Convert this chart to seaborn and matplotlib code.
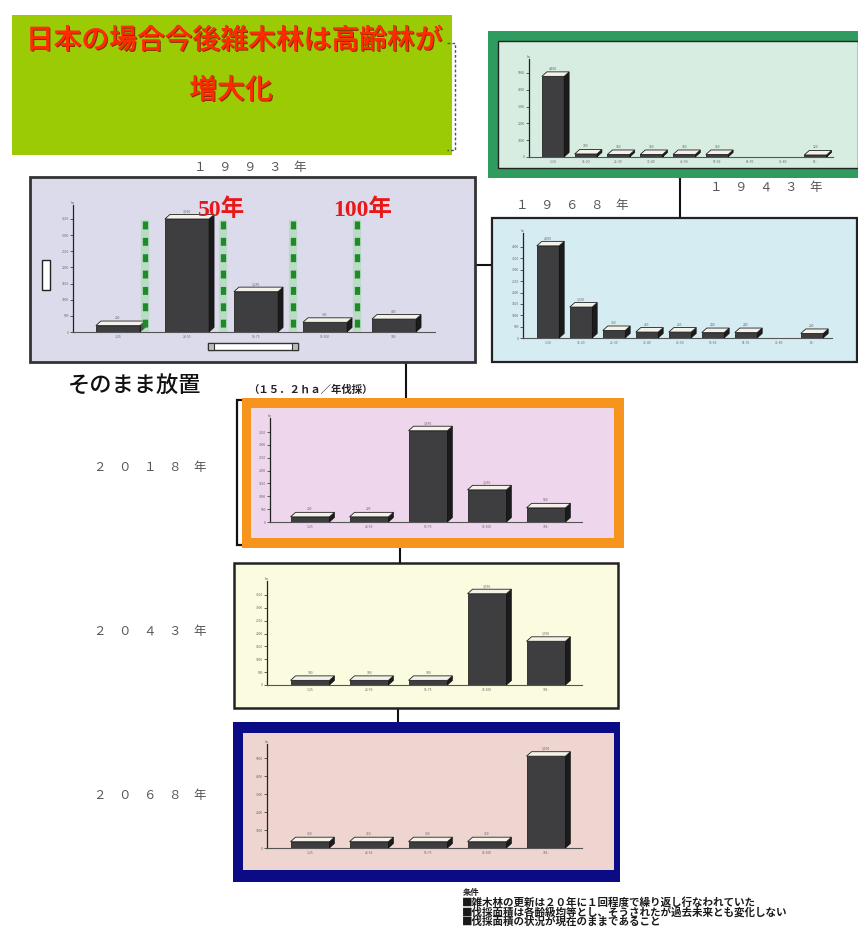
import numpy as np
import pandas as pd
import matplotlib
matplotlib.use("Agg")
import matplotlib.pyplot as plt
import matplotlib.patheffects as pe
from matplotlib.patches import Rectangle, Polygon
import seaborn as sns

sns.set_style("white")
plt.rcParams["font.family"] = ["Noto Sans CJK JP", "DejaVu Sans"]

W, H = 858, 926

# ---- data: forest area by age class (ha) ----
classes9 = ["1-10", "11-20", "21-30", "31-40", "41-50", "51-60", "61-70", "71-80", "81-"]
classes5 = ["1-25", "26-50", "51-75", "76-100", "101-"]

area_1943 = [4800, 180, 150, 150, 150, 150, 0, 0, 120]
area_1968 = [4050, 1360, 330, 260, 260, 240, 240, 0, 200]
area_1993 = [200, 3500, 1250, 300, 400]
area_2018 = [200, 200, 3550, 1250, 550]
area_2043 = [180, 180, 180, 3550, 1700]
area_2068 = [350, 350, 350, 350, 5100]

title_lines = ["日本の場合今後雑木林は高齢林が", "増大化"]
footnotes = ["■雑木林の更新は２０年に１回程度で繰り返し行なわれていた",
             "■伐採面積は各齢級均等とし、そうされたが過去未来とも変化しない",
             "■伐採面積の状況が現在のままであること"]

FRONT = "#3e3e41"
TOP = "#f3f1e8"
SIDE = "#1b1b1b"

fig = plt.figure(figsize=(W / 100, H / 100), dpi=100)

# full-figure canvas in pixel coordinates for panels, labels and connectors
canvas = fig.add_axes([0, 0, 1, 1], zorder=0)
canvas.set_xlim(0, W)
canvas.set_ylim(H, 0)
canvas.axis("off")

over = fig.add_axes([0, 0, 1, 1], zorder=6)
over.set_xlim(0, W)
over.set_ylim(H, 0)
over.axis("off")
over.patch.set_alpha(0)


def box(ax, l, t, r, b, fc, ec="none", lw=0, z=1):
    ax.add_patch(Rectangle((l, t), r - l, b - t, facecolor=fc, edgecolor=ec,
                           linewidth=lw, zorder=z))


def line(ax, xs, ys, **kw):
    ax.plot(xs, ys, solid_capstyle="butt", **kw)


# ---- title box ----
box(canvas, 12, 15, 452, 155, "#9bcb05")
line(canvas, [447, 455, 455, 447], [43, 43, 150, 150], color="#555555", lw=1.0, ls=(0, (2, 1.5)))
shadow = [pe.withSimplePatchShadow(offset=(0.8, -0.8), shadow_rgbFace="#7a2400", alpha=0.9),
          pe.Normal()]
canvas.text(234, 40, title_lines[0], ha="center", va="center", fontsize=20,
            color="#ff2a00", fontweight="medium", path_effects=shadow)
canvas.text(231, 90, title_lines[1], ha="center", va="center", fontsize=20,
            color="#ff2a00", fontweight="medium", path_effects=shadow)

# ---- panel frames ----
# 1943
box(canvas, 488, 31, 858, 178, "#2f9b5e")
box(canvas, 498, 41, 858, 168, "#d7ede2", ec="#222222", lw=1.0, z=2)
# 1968
box(canvas, 492, 218, 857, 362, "#d6ecf3", ec="#222222", lw=1.6)
# 1993
box(canvas, 30, 177, 475, 362, "#dcdbec", ec="#333333", lw=2.0)
# 2018
box(canvas, 237, 400, 617, 545, "none", ec="#111111", lw=1.6, z=1)
box(canvas, 242, 398, 624, 548, "#f7941d", z=2)
box(canvas, 251, 408, 614, 538, "#eed6ec", z=3)
# 2043
box(canvas, 234, 563, 618, 708, "#fbfbe0", ec="#222222", lw=1.8)
# 2068
box(canvas, 233, 722, 620, 882, "#0b0b86")
box(canvas, 243, 733, 614, 870, "#eed5d0", z=2)

# ---- connectors ----
for xs, ys in [([475, 492], [265, 265]), ([680, 680], [178, 218]),
               ([406, 406], [362, 398]), ([400, 400], [548, 563]),
               ([398, 398], [708, 722])]:
    line(canvas, xs, ys, color="#111111", lw=1.5, zorder=0.5)

# ---- year labels ----
year_style = dict(ha="center", va="center", fontsize=9, color="#555555")
canvas.text(250, 168, "１　９　９　３　年", **year_style)
canvas.text(766, 188, "１　９　４　３　年", **year_style)
canvas.text(572, 205, "１　９　６　８　年", **year_style)
canvas.text(150, 468, "２　０　１　８　年", **year_style)
canvas.text(150, 632, "２　０　４　３　年", **year_style)
canvas.text(150, 795, "２　０　６　８　年", **year_style)

canvas.text(135, 385, "そのまま放置", ha="center", va="center", fontsize=16,
            color="#111111", fontweight="medium")
canvas.text(310, 390, "（１５．２ｈａ／年伐採）", ha="center", va="center",
            fontsize=7.5, color="#222222", fontweight="bold")

# ---- footnote ----
canvas.text(463, 892, "条件", ha="left", va="center", fontsize=6, color="#222222",
            fontweight="bold")
for i, t in enumerate(footnotes):
    canvas.text(462, 902 + i * 10, t, ha="left", va="center", fontsize=7.6,
                color="#1a1a1a", fontweight="bold")

# ---- 1993 extras: legend tab and scroll bar ----
box(canvas, 42, 260, 50, 290, "white", ec="#222222", lw=1.0, z=3)
box(canvas, 208, 343, 298, 350, "white", ec="#333333", lw=1.0, z=3)
box(canvas, 208, 343, 214, 350, "#bbbbbb", ec="#333333", lw=0.8, z=4)
box(canvas, 292, 343, 298, 350, "#bbbbbb", ec="#333333", lw=0.8, z=4)


def px_rect(l, t, r, b):
    return [l / W, 1 - b / H, (r - l) / W, (b - t) / H]


def panel(labels, values, x_axis, first, spacing, baseline, top_tick, top_val,
          step, right, width=0.64):
    n = len(values)
    top_px = top_tick - 14
    ax = fig.add_axes(px_rect(x_axis, top_px, right, baseline), zorder=3)
    ax.patch.set_alpha(0)
    df = pd.DataFrame({"class": labels, "area": values})
    sns.barplot(data=df, x="class", y="area", ax=ax, color=FRONT, width=width,
                saturation=1, edgecolor="#101010", linewidth=0.5)
    last = first + (n - 1) * spacing
    x0 = -(first - x_axis) / spacing
    x1 = n - 1 + (right - last) / spacing
    ymax = top_val * (baseline - top_px) / (baseline - top_tick)
    ax.set_xlim(x0, x1)
    ax.set_ylim(0, ymax)
    ax.set_xlabel("")
    ax.set_ylabel("")
    ax.set_yticks(np.arange(0, top_val + 1, step))
    ax.tick_params(axis="y", labelsize=2.4, labelcolor="#666666", length=2,
                   width=0.5, pad=1, left=True)
    ax.tick_params(axis="x", labelsize=2.4, labelcolor="#666666", length=0, pad=2)
    for s in ["top", "right"]:
        ax.spines[s].set_visible(False)
    ax.spines["left"].set_color("#222222")
    ax.spines["left"].set_linewidth(0.9)
    ax.spines["bottom"].set_color("#555555")
    ax.spines["bottom"].set_linewidth(0.8)
    ax.text(x0, ymax * 1.0, "ha", fontsize=2.4, color="#666666", ha="center", va="bottom")

    # extruded faces to give the bars depth
    ax_w = (right - x_axis)
    ax_h = (baseline - top_px)
    dx = 5.0 * (x1 - x0) / ax_w
    dy = 4.5 * ymax / ax_h
    for p in ax.patches:
        h = p.get_height()
        if h <= 0:
            continue
        bl = p.get_x()
        br = bl + p.get_width()
        side = Polygon([(br, 0), (br + dx, dy), (br + dx, h + dy), (br, h)],
                       closed=True, facecolor=SIDE, edgecolor="#0a0a0a",
                       linewidth=0.4, clip_on=False, zorder=3)
        top = Polygon([(bl, h), (br, h), (br + dx, h + dy), (bl + dx, h + dy)],
                      closed=True, facecolor=TOP, edgecolor="#222222",
                      linewidth=0.6, clip_on=False, zorder=4)
        ax.add_patch(side)
        ax.add_patch(top)
    ax.bar_label(ax.containers[0], labels=[f"{v:,}" if v else "" for v in values],
                 fontsize=2.4, color="#666666", padding=4)
    return ax


panel(classes9, area_1943, 529, 553, 32.8, 157, 73, 5000, 1000, 833, width=0.68)
panel(classes9, area_1968, 523, 548, 33.0, 338, 247, 4000, 500, 832, width=0.68)
panel(classes5, area_1993, 73, 118, 69.0, 332, 219, 3500, 500, 435)
panel(classes5, area_2018, 270, 310, 59.0, 522, 432, 3500, 500, 582, width=0.66)
panel(classes5, area_2043, 267, 310, 59.0, 685, 595, 3500, 500, 582, width=0.66)
panel(classes5, area_2068, 267, 310, 59.0, 848, 758, 5000, 1000, 582, width=0.66)

# ---- 1993 overlay: age markers ----
for xv in [145, 223, 293, 357]:
    line(over, [xv, xv], [220, 332], color="#7fdc7f", lw=6, alpha=0.35)
    line(over, [xv, xv], [221, 332], color="#1f8a2a", lw=3.8, ls=(0, (1.5, 1.6)))
red = dict(ha="center", va="center", fontsize=17, color="#e81818", fontweight="bold",
           family=["Liberation Serif", "Noto Sans CJK JP"])
over.text(222, 210, "50年", **red)
over.text(363, 210, "100年", **red)

fig.savefig("out.png", dpi=100)
